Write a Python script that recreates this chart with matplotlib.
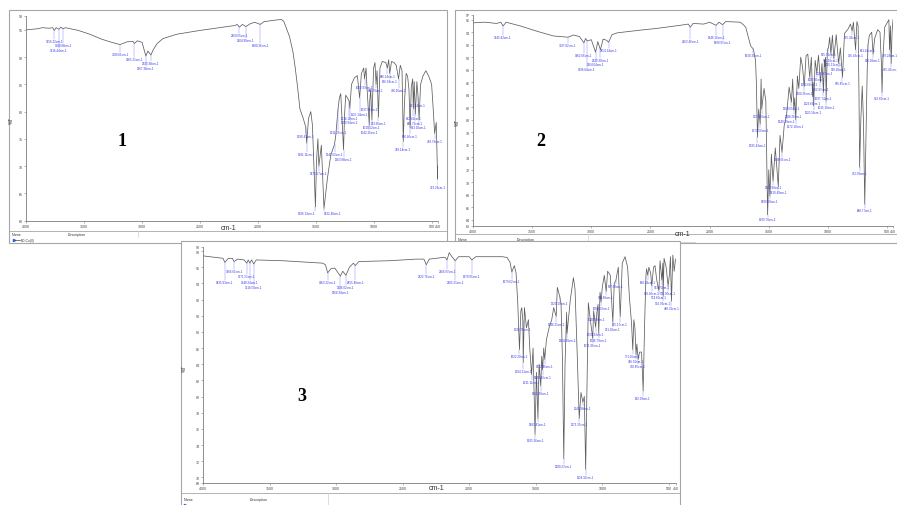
import numpy as np
import matplotlib
matplotlib.use("Agg")
import matplotlib.pyplot as plt
from matplotlib.patches import Rectangle

plt.rcParams['font.family'] = ['Liberation Sans', 'DejaVu Sans']

W, H = 897, 506

# ---- spectrum 1 (wavenumber cm-1, %T) ----
spec1 = [(4000, 95.0), (3900, 95.2), (3860, 95.4), (3800, 95.3), (3770, 95.4), (3756.32, 94.9),
         (3740, 95.4), (3716.44, 95.1), (3700, 95.5), (3680.88, 95.2), (3660, 95.4), (3550, 94.9),
         (3450, 94.2), (3350, 93.3), (3260, 92.7), (3189.61, 92.3), (3130, 92.8), (3080, 92.9),
         (3065.21, 92.5), (3040, 93.0), (3000, 92.7), (2967.38, 90.2), (2950, 91.1), (2923.38, 90.4),
         (2905, 91.3), (2870, 92.5), (2820, 93.4), (2700, 94.2), (2500, 94.9), (2300, 95.5),
         (2200, 95.8), (2180, 96.0), (2160.65, 95.5), (2135, 96.0), (2104.99, 95.6), (2070, 96.1),
         (2030, 96.4), (1980.36, 96.0), (1950, 96.5), (1850, 96.8), (1800, 96.9), (1780, 96.6),
         (1760, 95.5), (1730, 93.8), (1700, 91.0), (1680, 88.0), (1660, 84.5), (1640, 80.5),
         (1612, 78.8), (1590.41, 77.2), (1581.11, 74.2), (1566, 78.7), (1546, 80.0), (1532, 77.5),
         (1506.13, 62.5), (1497, 70.8), (1485, 75.0), (1476.57, 70.0), (1455, 73.8), (1432.40, 62.2),
         (1403, 67.7), (1374, 72.0), (1341.62, 74.0), (1331, 75.6), (1311.25, 80.5), (1300, 82.5),
         (1288, 83.3), (1263.88, 73.0), (1255, 79.5), (1245, 83.0), (1216.10, 82.0), (1209.94, 80.6),
         (1195, 85.0), (1170, 86.2), (1145, 86.6), (1125.14, 82.5), (1110, 87.0), (1090, 88.0),
         (1082.93, 86.0), (1070, 88.0), (1062, 84.5), (1042.26, 77.5), (1037.86, 82.0), (1030, 84.0),
         (1019.52, 78.5), (1005, 88.0), (993, 89.0), (983.70, 85.0), (975, 87.5), (963.60, 79.0),
         (950, 88.0), (930, 89.2), (900, 89.0), (886.14, 88.0), (875, 89.5), (866.34, 87.0),
         (850, 89.2), (830, 89.0), (810, 88.5), (790.16, 86.0), (775, 88.5), (760, 87.5),
         (749.14, 74.5), (740, 81.0), (725, 87.0), (712, 86.5), (700, 84.0), (690.40, 77.0),
         (680, 84.5), (668, 86.0), (662.41, 80.5), (655, 85.5), (645.72, 79.5), (632, 85.5),
         (621.14, 82.5), (613.10, 78.5), (600, 85.0), (580, 86.5), (555, 87.5), (530, 86.5),
         (505, 85.0), (490, 80.0), (478.79, 76.0), (465, 78.0), (453.28, 67.6), (450, 70.0)]
peaks1 = [3756.32, 3716.44, 3680.88, 3189.61, 3065.21, 2967.38, 2923.38, 2160.65, 2104.99, 1980.36,
          1590.41, 1581.11, 1506.13, 1476.57, 1432.40, 1341.62, 1311.25, 1263.88, 1216.10, 1209.94,
          1125.14, 1082.93, 1042.26, 1037.86, 1019.52, 983.70, 963.60, 886.14, 866.34, 790.16,
          749.14, 690.40, 662.41, 645.72, 621.14, 613.10, 478.79, 453.28]

# ---- spectrum 2 ----
spec2 = [(4000, 95.5), (3900, 95.6), (3800, 95.4), (3765, 95.6), (3745.82, 95.0), (3720, 95.6),
         (3600, 95.0), (3450, 94.1), (3320, 93.4), (3197.82, 93.2), (3150, 93.55), (3100, 93.3),
         (3062.66, 92.3), (3048, 93.0), (3036.04, 92.6), (3000, 92.8), (2964.04, 90.8), (2945, 92.5),
         (2923.39, 91.2), (2900, 92.9), (2870, 92.7), (2854.14, 92.4), (2825, 93.6), (2780, 93.9),
         (2600, 94.3), (2450, 94.6), (2250, 95.1), (2180, 95.3), (2163.46, 94.8), (2140, 95.4),
         (2050, 95.3), (2000, 95.6), (1946.16, 95.1), (1920, 95.6), (1890.97, 95.2), (1864, 95.7),
         (1740, 95.6), (1715, 95.2), (1695, 94.8), (1675, 93.4), (1653, 91.8), (1630.31, 91.3),
         (1612, 89.5), (1605, 86.0), (1595.43, 77.2), (1585, 81.7), (1572.56, 79.3), (1565, 86.5),
         (1559.50, 81.7), (1540, 85.0), (1525, 83.0), (1509.78, 64.8), (1500, 72.0), (1490.58, 67.8),
         (1478, 74.5), (1463.90, 70.2), (1445, 75.5), (1419.49, 69.3), (1405, 77.5), (1388.01, 74.8),
         (1370, 79.0), (1349.29, 80.8), (1328, 85.2), (1308.65, 82.8), (1298, 86.5), (1288.26, 81.6),
         (1280, 83.5), (1272.10, 80.0), (1258, 87.0), (1246, 85.0), (1230, 90.0), (1215, 88.5),
         (1200.26, 85.3), (1185, 90.2), (1170, 90.5), (1153.68, 86.8), (1140, 90.0), (1129.66, 83.7),
         (1125, 86.0), (1120.16, 82.2), (1108, 89.5), (1093.81, 87.5), (1080, 90.3), (1062.97, 86.0),
         (1050, 89.0), (1037.74, 84.4), (1030, 89.5), (1025.87, 88.5), (1020, 90.0), (1015.18, 83.0),
         (1005, 91.2), (995.71, 91.5), (985, 93.2), (975.10, 90.5), (962, 93.5), (950.12, 89.8),
         (930, 93.6), (909.28, 89.0), (895, 91.5), (876.85, 86.8), (860, 93.8), (830, 94.5),
         (810, 95.3), (795.43, 94.2), (785, 95.6), (766.43, 91.2), (755, 95.7), (745, 95.0),
         (738, 85.0), (732.03, 72.4), (722, 80.0), (710, 85.4), (700, 80.0), (688.77, 66.5),
         (678, 78.0), (668, 88.0), (661.24, 92.0), (650, 93.5), (630, 94.0), (618.28, 90.5),
         (605, 93.0), (580, 94.4), (560, 94.0), (548, 89.0), (542.60, 84.4), (535, 90.0),
         (520, 94.8), (500, 95.5), (485, 96.0), (479.24, 91.2), (472, 95.0), (465.45, 89.0),
         (458, 94.0), (450, 96.0)]
peaks2 = [3745.82, 3197.82, 3062.66, 3036.04, 2964.04, 2923.39, 2854.14, 2163.46, 1946.16, 1890.97,
          1630.31, 1595.43, 1572.56, 1559.50, 1509.78, 1490.58, 1463.90, 1419.49, 1388.01, 1349.29,
          1308.65, 1288.26, 1272.10, 1200.26, 1153.68, 1129.66, 1120.16, 1093.81, 1062.97, 1037.74,
          1025.87, 1015.18, 995.71, 975.10, 950.12, 909.28, 876.85, 795.43, 766.43, 732.03,
          688.77, 661.24, 618.28, 542.60, 479.24, 465.45]

# ---- spectrum 3 ----
spec3 = [(4000, 97.4), (3900, 97.2), (3850, 97.1), (3835.93, 96.6), (3810, 97.1), (3780, 97.1),
         (3766.61, 96.7), (3740, 97.0), (3690, 96.9), (3671.51, 96.5), (3660, 96.9), (3648.24, 96.5),
         (3635, 96.9), (3618.50, 96.4), (3600, 96.9), (3400, 96.8), (3200, 96.6), (3100, 96.5),
         (3080, 96.3), (3063.22, 95.3), (3040, 95.8), (3010, 95.9), (2968.34, 94.9), (2950, 95.5),
         (2926.02, 95.0), (2900, 96.0), (2870, 96.5), (2855.46, 96.2), (2830, 96.7), (2600, 96.8),
         (2400, 97.0), (2340, 97.0), (2322.76, 96.3), (2300, 97.0), (2200, 97.2), (2180, 97.2),
         (2166.97, 96.9), (2150, 97.8), (2130, 97.3), (2105.21, 96.8), (2080, 97.3), (2000, 97.3),
         (1979.95, 96.9), (1950, 97.3), (1750, 97.3), (1716, 97.2), (1693, 96.6), (1679.62, 95.4),
         (1661, 96.2), (1648, 95.3), (1635, 91.5), (1622.20, 85.8), (1612, 90.6), (1605, 91.0),
         (1596.76, 89.3), (1594.21, 84.2), (1585, 91.0), (1570, 88.5), (1555, 89.5), (1545, 86.0),
         (1531.11, 82.7), (1520, 86.0), (1505.36, 75.3), (1495, 83.0), (1483.41, 77.3), (1475, 84.0),
         (1462.30, 81.3), (1455, 85.0), (1448.45, 83.3), (1440, 86.0), (1432.46, 84.6), (1420, 87.0),
         (1400, 88.5), (1380, 89.5), (1365, 91.0), (1346.21, 89.9), (1338, 93.5), (1320.19, 92.4),
         (1310, 91.5), (1300, 85.0), (1289.27, 72.3), (1280, 84.0), (1268, 90.4), (1264.99, 87.8),
         (1255, 89.5), (1240, 92.0), (1217, 94.7), (1205, 93.3), (1190, 86.0), (1173.35, 77.3),
         (1160, 80.5), (1145.98, 79.3), (1135, 80.0), (1124.92, 71.0), (1112, 84.0), (1105, 91.6),
         (1090, 89.5), (1071.96, 87.2), (1065, 90.6), (1050.33, 88.6), (1040.28, 90.4), (1032, 91.4),
         (1026.79, 87.8), (1017, 92.9), (1009.03, 91.7), (1000, 93.5), (985, 95.0), (970.80, 93.0),
         (960, 95.5), (940, 95.0), (921.02, 89.2), (910, 94.0), (897.60, 94.4), (880, 96.0),
         (865.17, 89.9), (850, 96.5), (829, 97.3), (810, 96.0), (795, 92.0), (780, 89.0),
         (771.06, 85.8), (763, 89.5), (755, 88.5), (746.50, 85.2), (740, 86.5), (730.85, 84.6),
         (720, 85.5), (705, 85.5), (692.93, 80.7), (682, 89.0), (672, 95.0), (667, 95.8),
         (658.41, 95.0), (650, 96.0), (637, 95.3), (628.40, 93.7), (615, 96.0), (604, 96.2),
         (591, 94.4), (574.60, 93.1), (566, 96.8), (552.70, 94.4), (545, 96.5), (542.93, 92.4),
         (536, 97.1), (520, 96.0), (505.90, 93.7), (496, 95.0), (488, 97.3), (480.31, 91.8),
         (470, 97.5), (460, 95.5), (450, 97.0)]
peaks3 = [3835.93, 3766.61, 3671.51, 3648.24, 3618.50, 3063.22, 2968.34, 2926.02, 2855.46, 2322.76,
          2166.97, 2105.21, 1979.95, 1679.62, 1622.20, 1596.76, 1594.21, 1531.11, 1505.36, 1483.41,
          1462.30, 1448.45, 1432.46, 1346.21, 1320.19, 1289.27, 1264.99, 1173.35, 1145.98, 1124.92,
          1071.96, 1050.33, 1040.28, 1026.79, 1009.03, 970.80, 921.02, 897.60, 865.17, 771.06,
          746.50, 730.85, 692.93, 658.41, 628.40, 574.60, 552.70, 542.93, 505.90, 480.31]

xticks = [4000, 3500, 3000, 2500, 2000, 1500, 1000, 500, 450]

# where each peak label hangs (in %T), layout only
lab1 = [93.35, 91.7, 92.6, 90.9, 90.05, 88.3, 89.3, 94.4, 93.5, 92.6,
        75.8, 72.5, 61.7, 69.05, 61.7, 72.5, 76.7, 71.7, 79.2, 78.4,
        80.0, 84.9, 76.7, 80.8, 77.5, 84.3, 78.2, 86.9, 86.0, 84.3,
        73.5, 75.8, 79.2, 78.3, 81.6, 77.5, 74.9, 66.6]
lab2 = [93.55, 92.2, 90.7, 88.4, 89.2, 89.8, 91.4, 92.9, 93.6, 92.8,
        90.7, 76.3, 78.6, 80.9, 64.5, 67.3, 69.6, 68.8, 74.0, 80.1,
        82.2, 80.9, 79.3, 84.6, 86.1, 83.0, 81.6, 86.8, 85.3, 83.8,
        87.8, 82.4, 90.8, 89.9, 89.2, 88.4, 86.2, 93.6, 90.6, 71.8,
        65.9, 91.4, 89.9, 83.8, 90.6, 88.4]
lab3 = [94.4, 95.75, 95.1, 94.4, 93.8, 94.4, 93.2, 93.8, 94.4, 95.2,
        95.8, 94.4, 95.2, 94.5, 85.3, 88.55, 83.4, 82.0, 74.85, 76.8,
        80.7, 82.7, 84.0, 89.25, 91.8, 71.6, 87.2, 76.8, 78.8, 70.3,
        86.6, 88.0, 89.9, 87.2, 91.2, 92.5, 88.55, 93.9, 89.25, 85.3,
        84.7, 84.0, 80.1, 94.4, 93.1, 92.5, 93.8, 91.8, 93.1, 91.2]
# labels that sit side by side at the bottom of panel 1
align1 = {1506.13: 'right', 1432.40: 'left'}

fig = plt.figure(figsize=(W / 100, H / 100), dpi=100)
bg = fig.add_axes([0, 0, 1, 1])
bg.set_xlim(0, W)
bg.set_ylim(H, 0)
bg.axis('off')

frame = '#a6a6a6'
txt = '#333333'


def px_axes(x0, y0, x1, y1):
    return fig.add_axes([x0 / W, 1 - y1 / H, (x1 - x0) / W, (y1 - y0) / H])


def spectrum(rect, spec, peaks, labs, ylim, yticks, ylabels, align=None):
    align = align or {}
    wn, t = np.array(spec).T
    ax = px_axes(*rect)
    ax.patch.set_visible(False)
    ax.plot(wn, t, color='#5e5e5e', lw=0.55)
    ax.set_xlim(4000, 450)
    ax.set_ylim(*ylim)
    for s in ['top', 'right']:
        ax.spines[s].set_visible(False)
    for s in ['left', 'bottom']:
        ax.spines[s].set_color('#7c7c7c')
        ax.spines[s].set_linewidth(0.6)
    ax.set_xticks(xticks)
    ax.set_xticklabels([str(v) for v in xticks])
    ax.set_yticks(yticks)
    ax.set_yticklabels(ylabels)
    ax.tick_params(length=1.2, width=0.4, pad=1, labelsize=2.6,
                   colors='#7c7c7c', labelcolor='#444444')
    # peak picks: leader line from the curve down to its label
    for w, lt in zip(peaks, labs):
        tp = np.interp(w, wn[::-1], t[::-1])
        lt = min(lt, tp - 0.4)
        ax.plot([w, w], [tp, lt], color='#8e8eff', lw=0.35)
        ax.text(w, lt, f'{w:.2f}cm-1', ha=align.get(w, 'center'), va='top', fontsize=2.2,
                color='#3b3be8', clip_on=False)
    return ax


# ---- panel frames ----
bg.add_patch(Rectangle((9, 11), 438, 233, fill=False, ec=frame, lw=0.8))
bg.add_patch(Rectangle((455, 11), 450, 233, fill=False, ec=frame, lw=0.8))

# panel 1 footer
bg.plot([9, 447], [231.5, 231.5], color=frame, lw=0.6)
bg.plot([138, 138], [231.5, 237.5], color='#d0d0d0', lw=0.5)
bg.text(11.5, 234.6, 'Name', fontsize=2.6, color=txt, va='center')
bg.text(68, 234.6, 'Description', fontsize=2.6, color=txt, va='center')
bg.plot([13.5], [240.6], marker='>', ms=1.6, color='#2f5fd0', mec='#2f5fd0')
bg.plot([15, 20], [240.6, 240.6], color='#444444', lw=0.5)
bg.text(20.8, 240.6, 'BD-Cu(II)', fontsize=2.3, color=txt, va='center')

# panel 2 footer
bg.plot([455, 897], [235, 235], color=frame, lw=0.6)
bg.plot([455, 695], [242.5, 242.5], color='#c4c4c4', lw=0.5)
bg.plot([588, 588], [235, 242.5], color='#d0d0d0', lw=0.5)
bg.text(458, 239.6, 'Name', fontsize=2.6, color=txt, va='center')
bg.text(517, 239.6, 'Description', fontsize=2.6, color=txt, va='center')

# panel 3 sheet sits on top of the other two
bg.add_patch(Rectangle((181, 241.5), 499, 270, fc='white', ec=frame, lw=0.8, zorder=4))
bg.plot([181, 680], [494, 494], color=frame, lw=0.6, zorder=5)
bg.plot([328, 328], [494, 506], color='#d0d0d0', lw=0.5, zorder=5)
bg.text(184, 500, 'Name', fontsize=2.6, color=txt, va='center', zorder=6)
bg.text(250, 500, 'Description', fontsize=2.6, color=txt, va='center', zorder=6)
bg.plot([185], [505.5], marker='>', ms=1.6, color='#2f5fd0', zorder=6)

# axis titles
for x, y in [(11.5, 120), (457.5, 122), (184, 369)]:
    bg.text(x, y, '%T', fontsize=3.4, color=txt, rotation=90, ha='center', va='center', zorder=6)
for x, y in [(228.5, 228.6), (683, 234), (437, 488.5)]:
    bg.text(x, y, 'cm-1', fontsize=5, color=txt, ha='center', va='center', zorder=6)

# panel numbers
for x, y, s in [(121.7, 141, '1'), (541, 141.7, '2'), (302, 396.7, '3')]:
    bg.text(x, y, s, fontsize=13, fontweight='bold', family='Liberation Serif',
            ha='center', va='center', color='black', zorder=6)

# ---- spectra ----
yt1 = [60, 65, 70, 75, 80, 85, 90, 95, 97.6]
spectrum((26, 16.7, 438, 221.5), spec1, peaks1, lab1, (60.0, 97.6),
         yt1, [str(v) for v in yt1[:-1]] + ['98'], align1)

yt2 = [63.0] + list(range(64, 97, 2)) + [96.8]
spectrum((473, 15.7, 893, 227), spec2, peaks2, lab2, (63.0, 96.8),
         yt2, ['63'] + [str(v) for v in range(64, 97, 2)] + ['97'])

yt3 = [69.3] + list(range(70, 99, 2)) + [98.5]
spectrum((203, 248, 675.5, 484), spec3, peaks3, lab3, (69.3, 98.5),
         yt3, ['69'] + [str(v) for v in range(70, 99, 2)] + ['98'])

fig.savefig('out.png', dpi=100)
